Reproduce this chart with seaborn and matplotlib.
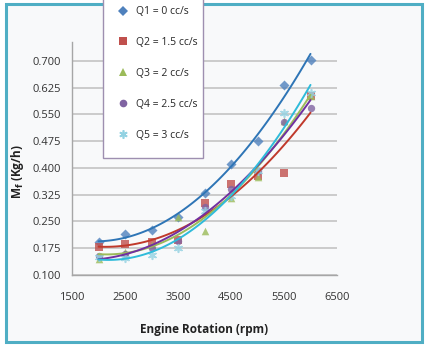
import numpy as np
import pandas as pd
import matplotlib
matplotlib.use("Agg")
import matplotlib.pyplot as plt
import seaborn as sns
from matplotlib.lines import Line2D
from matplotlib.patches import Rectangle

# --- Data ---
rpm = [2000, 2500, 3000, 3500, 4000, 4500, 5000, 5500, 6000]
q1 = [0.192, 0.216, 0.225, 0.262, 0.330, 0.411, 0.475, 0.632, 0.702]
q2 = [0.178, 0.187, 0.192, 0.198, 0.302, 0.355, 0.378, 0.386, 0.600]
q3 = [0.145, 0.165, 0.185, 0.262, 0.223, 0.316, 0.374, 0.530, 0.600]
q4 = [0.152, 0.160, 0.175, 0.195, 0.290, 0.340, 0.390, 0.528, 0.568]
q5 = [0.150, 0.148, 0.156, 0.176, 0.280, 0.320, 0.390, 0.553, 0.610]

labels = ["Q1 = 0 cc/s", "Q2 = 1.5 cc/s", "Q3 = 2 cc/s", "Q4 = 2.5 cc/s", "Q5 = 3 cc/s"]
x_ticks = [1500, 2500, 3500, 4500, 5500, 6500]
y_ticks = [0.100, 0.175, 0.250, 0.325, 0.400, 0.475, 0.550, 0.625, 0.700]

# styling per series (marker colour, trend colour, marker)
marker_colors = ["#4F81BD", "#C0504D", "#9BBB59", "#8064A2", "#93D2E2"]
line_colors = ["#2E75B6", "#C0392B", "#9BBB59", "#7030A0", "#2FBBDA"]
markers = ["D", "s", "^", "o", (6, 2, 0)]
sizes = [26, 26, 30, 28, 30]

df = pd.DataFrame({"rpm": rpm, "Q1": q1, "Q2": q2, "Q3": q3, "Q4": q4, "Q5": q5})

sns.set_style("white")
plt.rcParams["font.family"] = ["Open Sans", "DejaVu Sans"]

fig = plt.figure(figsize=(4.29, 3.46), dpi=100)
fig.patch.set_facecolor("white")
# light panel with teal frame like the source
fig.patches.append(Rectangle((6 / 429, 4 / 346), 416 / 429, 338 / 346, transform=fig.transFigure,
                             facecolor="#F8F9FA", edgecolor="#4FAEC4", linewidth=2.2, zorder=-1))

ax = fig.add_axes([72 / 429, 71 / 346, 265 / 429, 233 / 346])
ax.set_facecolor("none")

for i, col in enumerate(["Q1", "Q2", "Q3", "Q4", "Q5"]):
    sns.regplot(data=df, x="rpm", y=col, order=2, ci=None, ax=ax, marker=markers[i],
                scatter_kws={"s": sizes[i], "color": marker_colors[i], "linewidths": 1.2 if i == 4 else 0},
                line_kws={"color": line_colors[i], "linewidth": 1.4})

ax.set_xlim(1500, 6500)
ax.set_ylim(0.1, 0.7525)
ax.set_xticks(x_ticks)
ax.set_yticks(y_ticks)
ax.set_yticklabels([f"{v:.3f}" for v in y_ticks])
ax.yaxis.grid(True, color="#BFBFBF", linewidth=1.1)
ax.set_axisbelow(True)
for s in ["top", "right"]:
    ax.spines[s].set_visible(False)
for s in ["left", "bottom"]:
    ax.spines[s].set_color("#A6A6A6")
    ax.spines[s].set_linewidth(1.0)
ax.tick_params(axis="x", length=3, direction="inout", color="#A6A6A6", pad=11, labelsize=8, labelcolor="#333333")
ax.tick_params(axis="y", length=3, direction="out", color="#A6A6A6", pad=5, labelsize=8, labelcolor="#333333")
ax.set_xlabel("")
ax.set_ylabel("")

fig.text(204 / 429, 1 - 330 / 346, "Engine Rotation (rpm)", ha="center", va="center",
         fontsize=8.5, fontweight="bold", color="#222222")
fig.text(18 / 429, 1 - 172 / 346, "M$_\\mathbf{f}$ (Kg/h)", ha="center", va="center", rotation=90,
         fontsize=8.5, fontweight="bold", color="#222222")

# legend box: drawn as its own patch (narrow right margin, top runs off the figure)
fig.patches.append(Rectangle((103 / 429, 1 - 158 / 346), 100 / 429, 170 / 346, transform=fig.transFigure,
                             facecolor="white", edgecolor="#9E8FB0", linewidth=1.0, zorder=4))

handles = [Line2D([], [], linestyle="none", marker=markers[i], color=marker_colors[i],
                  markersize=5.5 if i != 4 else 6, markeredgewidth=1.2 if i == 4 else 0)
           for i in range(5)]
leg = fig.legend(handles, labels, loc="lower left", bbox_to_anchor=(103 / 429, 1 - 158 / 346),
                 borderaxespad=0, fontsize=7.5, labelspacing=1.91, handlelength=0.6,
                 handletextpad=0.9, borderpad=1.65, frameon=False)

fig.savefig("out.png", dpi=100)
